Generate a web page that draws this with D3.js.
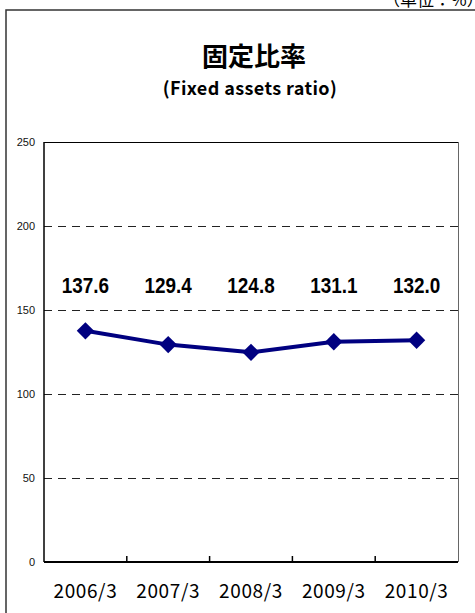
<!DOCTYPE html>
<html>
<head>
<meta charset="utf-8">
<script src="https://cdn.jsdelivr.net/npm/d3@7.9.0/dist/d3.min.js"></script>
<style>
  body { margin: 0; background: #fff; }
  svg { display: block; }
</style>
</head>
<body>
<div id="chart"></div>
<script>
const categories = ['2006/3', '2007/3', '2008/3', '2009/3', '2010/3'];
const values = [137.6, 129.4, 124.8, 131.1, 132.0];
const yTicks = [0, 50, 100, 150, 200, 250];
const gridValues = [50, 100, 150, 200];
const title = '固定比率';
const subtitle = '(Fixed assets ratio)';
const unitText = '（単位：%）';

const width = 475;
const height = 613;
const plot = { left: 44, right: 458, top: 142, bottom: 562 };
const labelLevel = 165; // data labels sit on one row

const svg = d3.select('#chart')
  .append('svg')
  .attr('width', width)
  .attr('height', height);

// outer frame (cropped at right and bottom)
svg.append('path')
  .attr('d', `M6,${height} L6,10 L${width},10`)
  .attr('fill', 'none')
  .attr('stroke', '#333')
  .attr('stroke-width', 1.5);

svg.append('text')
  .attr('x', 383)
  .attr('y', 6)
  .attr('font-family', '"Noto Sans CJK JP", sans-serif')
  .attr('font-size', 17)
  .attr('fill', '#000')
  .text(unitText);

// titles
svg.append('text')
  .attr('x', 254)
  .attr('y', 66)
  .attr('text-anchor', 'middle')
  .attr('font-family', '"Noto Sans CJK JP", sans-serif')
  .attr('font-weight', 'bold')
  .attr('font-size', 26)
  .text(title);

svg.append('text')
  .attr('x', 250)
  .attr('y', 95)
  .attr('text-anchor', 'middle')
  .attr('font-family', '"Noto Sans CJK JP", sans-serif')
  .attr('font-weight', 'bold')
  .attr('font-size', 18)
  .attr('letter-spacing', 0.4)
  .text(subtitle);

const xScale = d3.scaleBand()
  .domain(categories)
  .range([plot.left, plot.right]);

const yScale = d3.scaleLinear()
  .domain([0, 250])
  .range([plot.bottom, plot.top]);

const cx = (d) => xScale(d) + xScale.bandwidth() / 2;

// gridlines
svg.append('g')
  .selectAll('line')
  .data(gridValues)
  .join('line')
  .attr('x1', plot.left)
  .attr('x2', plot.right)
  .attr('y1', (d) => yScale(d) + 0.5)
  .attr('y2', (d) => yScale(d) + 0.5)
  .attr('stroke', '#222')
  .attr('stroke-width', 1)
  .attr('stroke-dasharray', '8,6');

// plot border: top + right
svg.append('line')
  .attr('x1', plot.left).attr('x2', plot.right)
  .attr('y1', plot.top + 0.5).attr('y2', plot.top + 0.5)
  .attr('stroke', '#000').attr('stroke-width', 1);
svg.append('line')
  .attr('x1', plot.right + 0.5).attr('x2', plot.right + 0.5)
  .attr('y1', plot.top).attr('y2', plot.bottom)
  .attr('stroke', '#666').attr('stroke-width', 1);

// y axis labels
svg.append('g')
  .selectAll('text')
  .data(yTicks)
  .join('text')
  .attr('x', 35)
  .attr('y', (d) => yScale(d))
  .attr('dy', '0.35em')
  .attr('text-anchor', 'end')
  .attr('font-family', '"Liberation Sans", Arial, sans-serif')
  .attr('font-size', 11)
  .attr('fill', '#111')
  .text((d) => d);

// left axis line
svg.append('line')
  .attr('x1', plot.left).attr('x2', plot.left)
  .attr('y1', plot.top).attr('y2', plot.bottom)
  .attr('stroke', '#000').attr('stroke-width', 1.5);

// x axis line and inner ticks at category boundaries
svg.append('line')
  .attr('x1', plot.left).attr('x2', plot.right)
  .attr('y1', plot.bottom).attr('y2', plot.bottom)
  .attr('stroke', '#000').attr('stroke-width', 2);

svg.append('g')
  .selectAll('line')
  .data(categories.slice(1))
  .join('line')
  .attr('x1', (d) => xScale(d))
  .attr('x2', (d) => xScale(d))
  .attr('y1', plot.bottom)
  .attr('y2', plot.bottom - 6)
  .attr('stroke', '#000')
  .attr('stroke-width', 1.5);

svg.append('g')
  .selectAll('text')
  .data(categories)
  .join('text')
  .attr('x', (d) => cx(d))
  .attr('y', 598)
  .attr('text-anchor', 'middle')
  .attr('font-family', '"Noto Sans CJK JP", sans-serif')
  .attr('font-size', 19)
  .attr('letter-spacing', 0.6)
  .attr('fill', '#000')
  .text((d) => d);

// series line
const line = d3.line()
  .x((d, i) => cx(categories[i]))
  .y((d) => yScale(d));

svg.append('path')
  .datum(values)
  .attr('d', line)
  .attr('fill', 'none')
  .attr('stroke', '#000080')
  .attr('stroke-width', 4)
  .attr('stroke-linejoin', 'round');

// diamond markers
svg.append('g')
  .selectAll('path')
  .data(values)
  .join('path')
  .attr('d', d3.symbol(d3.symbolSquare, 150))
  .attr('transform', (d, i) => `translate(${cx(categories[i])}, ${yScale(d)}) rotate(45)`)
  .attr('fill', '#000080');

// data labels
svg.append('g')
  .selectAll('text')
  .data(values)
  .join('text')
  .attr('transform', (d, i) => `translate(${cx(categories[i])}, ${yScale(labelLevel) + 8}) scale(0.86, 1)`)
  .attr('text-anchor', 'middle')
  .attr('font-family', '"Liberation Sans", Arial, sans-serif')
  .attr('font-weight', 'bold')
  .attr('font-size', 22)
  .attr('fill', '#000')
  .text((d) => d.toFixed(1));
</script>
</body>
</html>
